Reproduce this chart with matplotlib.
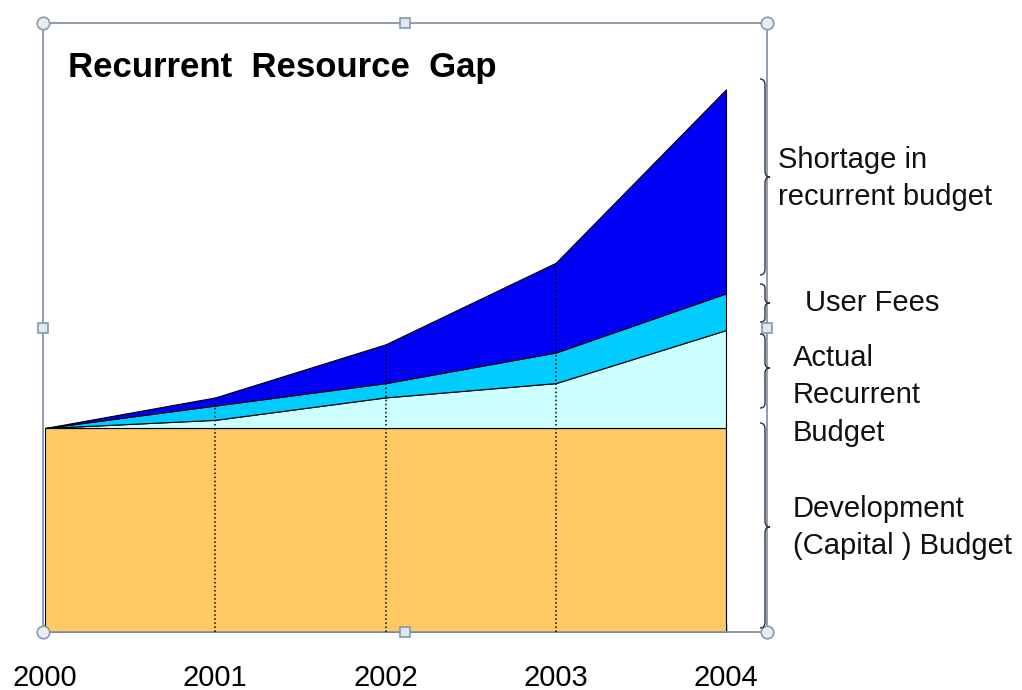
import matplotlib.pyplot as plt
import numpy as np
from matplotlib.path import Path
from matplotlib.patches import PathPatch

plt.rcParams['font.family'] = ['Liberation Sans', 'DejaVu Sans']

years = [2000, 2001, 2002, 2003, 2004]
year_labels = ['2000', '2001', '2002', '2003', '2004']
development = [100, 100, 100, 100, 100]
actual_recurrent = [0, 4, 15, 22, 48]
user_fees = [0, 7, 7, 15, 18]
shortage = [0, 4, 19, 44, 100]

W, H = 1022, 690
fig = plt.figure(figsize=(W / 100, H / 100), dpi=100)
fig.set_facecolor('white')


def fx(px):
    return px / W


def fy(py):
    return 1 - py / H


ax = fig.add_axes([fx(43), fy(632), (767 - 43) / W, (632 - 23) / H])

colors = ['#FFC966', '#CCFFFF', '#00CCFF', '#0000F5']
ax.stackplot(years, development, actual_recurrent, user_fees, shortage,
             colors=colors, edgecolor='black', linewidth=0.8, zorder=2)

total = np.array(development) + np.array(actual_recurrent) + np.array(user_fees) + np.array(shortage)
ax.vlines(years[1:4], 0, total[1:4], colors='black', linestyles=':', linewidth=1.1, zorder=3)

step = (726 - 45) / 4
ax.set_xlim(2000 - 2 / step, 2000 + (767 - 45) / step)
ax.set_ylim(0, (632 - 23) / 2.04)
ax.set_yticks([])
ax.set_xticks(years, year_labels, fontsize=21, color='black')
ax.tick_params(axis='x', direction='in', length=6, width=1, color='black', pad=23)

for s in ax.spines.values():
    s.set_color('#8696a6')
    s.set_linewidth(1.3)

# selection handles on the frame
ax.plot([0, 1, 0, 1], [0, 0, 1, 1], 'o', ms=9, mfc='#e6edf3', mec='#8a9bab', mew=1.2,
        transform=ax.transAxes, clip_on=False, zorder=6)
ax.plot([0.5, 0, 1, 0.5], [1, 0.5, 0.5, 0], 's', ms=7, mfc='#dde8f2', mec='#7f9ab2', mew=1.2,
        transform=ax.transAxes, clip_on=False, zorder=6)

fig.text(fx(68), fy(67), 'Recurrent  Resource  Gap', fontsize=25, fontweight='bold',
         ha='left', va='center', color='black')


def brace(top, bot, tip, xc=765, w=5, r=6):
    pts = [(xc - w, top), (xc, top), (xc, top + r), (xc, tip - r), (xc, tip), (xc + w, tip),
           (xc, tip), (xc, tip + r), (xc, bot - r), (xc, bot), (xc - w, bot)]
    codes = [Path.MOVETO, Path.CURVE3, Path.CURVE3, Path.LINETO, Path.CURVE3, Path.CURVE3,
             Path.CURVE3, Path.CURVE3, Path.LINETO, Path.CURVE3, Path.CURVE3]
    verts = [(fx(x), fy(y)) for x, y in pts]
    fig.add_artist(PathPatch(Path(verts, codes), fill=False, edgecolor='#333333',
                             linewidth=1.0, transform=fig.transFigure, zorder=5))


brace(79, 275, 177)
brace(284, 322, 303, r=4)
brace(334, 408, 368, r=5)
brace(423, 628, 527)

side_text = [
    ('Shortage in', 778, 160),
    ('recurrent budget', 778, 197),
    ('User Fees', 805, 303),
    ('Actual', 793, 358),
    ('Recurrent', 793, 395),
    ('Budget', 793, 433),
    ('Development', 793, 509),
    ('(Capital ) Budget', 793, 546),
]
for txt, x, y in side_text:
    fig.text(fx(x), fy(y), txt, fontsize=21, ha='left', va='center', color='#111111')

fig.savefig('out.png', dpi=100)
